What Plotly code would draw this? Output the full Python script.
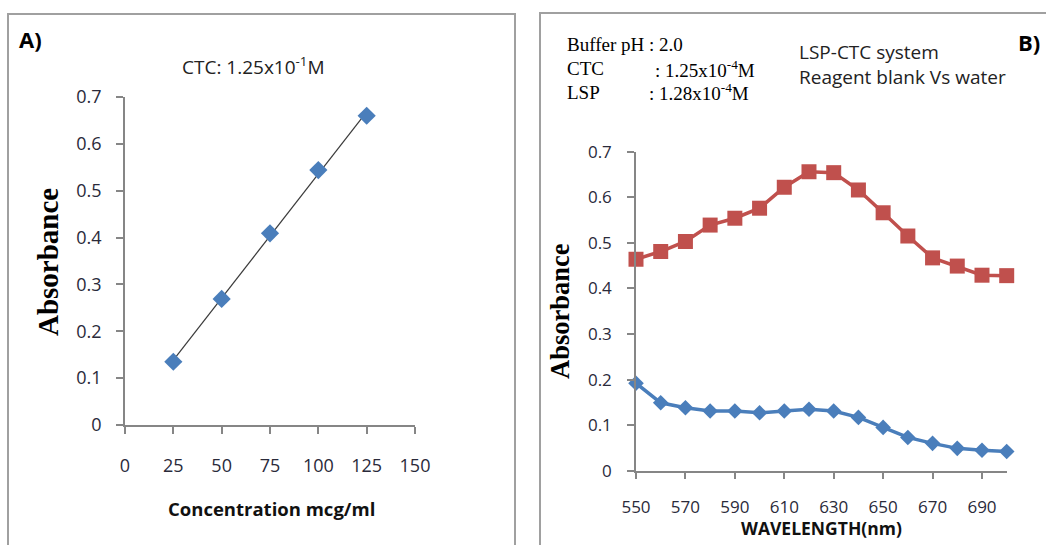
import numpy as np
import plotly.graph_objects as go

# ---- Data ----
conc = [25, 50, 75, 100, 125]
conc_abs = [0.135, 0.269, 0.409, 0.544, 0.660]

wavelength = [550, 560, 570, 580, 590, 600, 610, 620, 630, 640, 650, 660, 670, 680, 690, 700]
complex_abs = [0.464, 0.481, 0.503, 0.539, 0.554, 0.576, 0.622, 0.656, 0.654, 0.616,
               0.566, 0.515, 0.467, 0.449, 0.429, 0.428]
blank_abs = [0.192, 0.149, 0.138, 0.131, 0.131, 0.127, 0.131, 0.135, 0.131, 0.117,
             0.095, 0.073, 0.060, 0.049, 0.045, 0.042]

left_xticks = [0, 25, 50, 75, 100, 125, 150]
right_xticks = [550, 570, 590, 610, 630, 650, 670, 690]
y_ticks = [0, 0.1, 0.2, 0.3, 0.4, 0.5, 0.6, 0.7]

W, H = 1046, 545
def px(x):
    return x / W
def py(y):
    return 1 - y / H

BLUE = "#4A7EBB"
RED = "#C0504D"
AXIS = "#868686"
TICKC = "#2a2a3a"
SANS = "Open Sans"
SERIF = "Liberation Serif"

# trendline from linear fit of the calibration data
slope, intercept = np.polyfit(conc, conc_abs, 1)
trend_x = [conc[0], conc[-1]]
trend_y = [slope * v + intercept for v in trend_x]

fig = go.Figure()
fig.add_trace(go.Scatter(x=trend_x, y=trend_y, mode="lines",
                         line=dict(color="#3a3a3a", width=1.2),
                         xaxis="x", yaxis="y", showlegend=False, hoverinfo="skip"))
fig.add_trace(go.Scatter(x=conc, y=conc_abs, mode="markers",
                         marker=dict(symbol="diamond", size=14, color=BLUE),
                         xaxis="x", yaxis="y", showlegend=False, cliponaxis=False))
fig.add_trace(go.Scatter(x=wavelength, y=complex_abs, mode="lines+markers",
                         line=dict(color=RED, width=3.5),
                         marker=dict(symbol="square", size=15, color=RED),
                         xaxis="x2", yaxis="y2", showlegend=False, cliponaxis=False))
fig.add_trace(go.Scatter(x=wavelength, y=blank_abs, mode="lines+markers",
                         line=dict(color=BLUE, width=3.5),
                         marker=dict(symbol="diamond", size=12, color=BLUE),
                         xaxis="x2", yaxis="y2", showlegend=False, cliponaxis=False))

axis_common = dict(showline=True, linecolor=AXIS, linewidth=1.5, ticks="outside",
                   ticklen=7, tickcolor=AXIS, tickwidth=1.5, showgrid=False,
                   zeroline=False, fixedrange=True, automargin=False)

fig.update_layout(
    width=W, height=H,
    margin=dict(l=0, r=0, t=0, b=0, pad=0, autoexpand=False),
    paper_bgcolor="white", plot_bgcolor="white",
    xaxis=dict(domain=[px(125), px(415)], range=[0, 150], tickvals=left_xticks,
               anchor="y", tickfont=dict(family=SANS, size=18, color=TICKC),
               ticklabelstandoff=17, **axis_common),
    yaxis=dict(domain=[py(425), py(97)], range=[0, 0.7], tickvals=y_ticks,
               anchor="x", tickfont=dict(family=SANS, size=18, color=TICKC),
               ticklabelstandoff=11, **axis_common),
    xaxis2=dict(domain=[px(636), px(1006.7)], range=[550, 700], tickvals=right_xticks,
                anchor="y2", tickfont=dict(family=SANS, size=17, color=TICKC),
                ticklabelstandoff=13, **axis_common),
    yaxis2=dict(domain=[py(470.7), py(151.7)], range=[0, 0.7], tickvals=y_ticks,
                anchor="x2", tickfont=dict(family=SANS, size=17, color=TICKC),
                ticklabelstandoff=12, **axis_common),
)

# panel borders
fig.add_shape(type="rect", xref="paper", yref="paper",
              x0=px(8), x1=px(515), y0=py(560), y1=py(14),
              line=dict(color="#A0A0A0", width=2))
fig.add_shape(type="rect", xref="paper", yref="paper",
              x0=px(540), x1=px(1060), y0=py(560), y1=py(13),
              line=dict(color="#A0A0A0", width=2))

def ann(text, x, y, size, family=SANS, bold=False, xanchor="center", angle=0, color="black"):
    t = f"<b>{text}</b>" if bold else text
    fig.add_annotation(text=t, x=px(x), y=py(y), xref="paper", yref="paper",
                       xanchor=xanchor, yanchor="middle", showarrow=False,
                       textangle=angle, font=dict(family=family, size=size, color=color))

# panel labels
ann("A)", 30, 39, 22, bold=True)
ann("B)", 1029, 42, 22, bold=True)

# left panel texts
ann("CTC: 1.25x10<sup>-1</sup>M", 253, 66, 19, color="#222")
ann("Absorbance", 48, 262, 29, family=SERIF, bold=True, angle=-90)
ann("Concentration mcg/ml", 271, 508, 18.5, bold=True, color="#111")

# right panel texts
ann("Buffer pH : 2.0", 565, 45, 19, family=SERIF, xanchor="left")
ann("CTC", 565, 69, 19, family=SERIF, xanchor="left")
ann(": 1.25x10<sup>-4</sup>M", 653, 69, 19, family=SERIF, xanchor="left")
ann("LSP", 565, 92, 19, family=SERIF, xanchor="left")
ann(": 1.28x10<sup>-4</sup>M", 647, 92, 19, family=SERIF, xanchor="left")
ann("LSP-CTC system", 797, 52, 19, xanchor="left", color="#222")
ann("Reagent blank Vs water", 797, 77, 19, xanchor="left", color="#222")
ann("Absorbance", 560, 311, 26.5, family=SERIF, bold=True, angle=-90)
ann("WAVELENGTH(nm)", 821, 528, 17.5, bold=True, color="#111")

fig.write_html("out.html", config={"displayModeBar": False},
               post_script="document.body.style.margin='0';document.body.style.overflow='hidden';")
